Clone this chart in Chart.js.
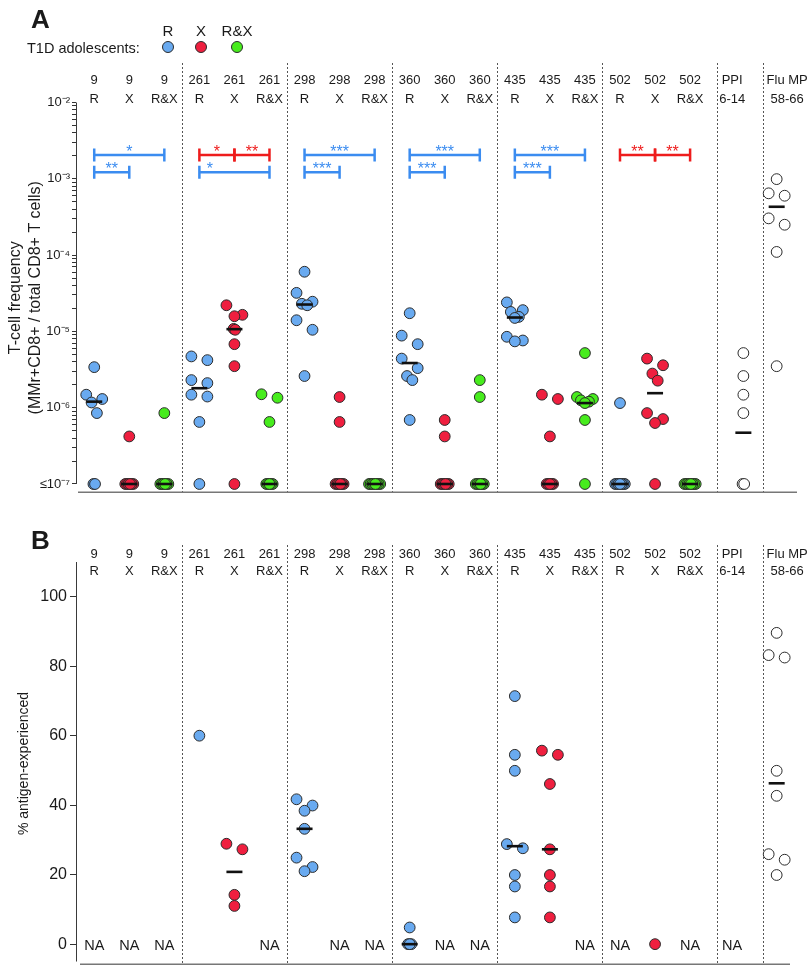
<!DOCTYPE html>
<html>
<head>
  <title>MMr+ CD8 T-cell frequency and antigen experience</title>
  <script src="https://cdn.jsdelivr.net/npm/chart.js@4/dist/chart.umd.min.js"></script>
  <style>
    body { margin: 0; background: #fff; overflow: hidden; }
    #wrap { position: relative; width: 810px; height: 968px; font-family: "Liberation Sans", Arial, sans-serif; color: #1a1a1a; }
    #wrap canvas { position: absolute; left: 0; }
    .abs { position: absolute; white-space: nowrap; }
    .letter { font-weight: bold; font-size: 26px; line-height: 26px; }
    .lg { font-size: 14.5px; line-height: 14.5px; }
  </style>
</head>
<body>
<div id="wrap">
  <canvas id="chartA" width="810" height="500" style="top:0"></canvas>
  <canvas id="chartB" width="810" height="463" style="top:505px"></canvas>
  <div class="abs letter" style="left:31px;top:6px">A</div>
  <div class="abs letter" style="left:31px;top:527px">B</div>
  <div class="abs lg" style="left:27px;top:41px">T1D adolescents:</div>
  <div id="legend"></div>
</div>

<script>
  var FONT = '"Liberation Sans", Arial, sans-serif';
  Chart.defaults.font.family = FONT;
  Chart.defaults.color = '#1a1a1a';

  // ---- data ----
  var epitopes = ['9', '261', '298', '360', '435', '502'];
  var types = ['R', 'X', 'R&X'];
  var controls = ['PPI', 'Flu MP'];
  var controlRanges = ['6-14', '58-66'];
  var ND = 1e-7; // at or below detection

  // A: MMr+CD8+ / total CD8+ T cells, one array per epitope
  var freqR = [
    [3.4e-6, 1.48e-6, 1.3e-6, 1.17e-6, 8.5e-7, ND, ND],
    [4.7e-6, 4.2e-6, 2.3e-6, 2.1e-6, 1.48e-6, 1.4e-6, 6.5e-7, ND],
    [6.05e-5, 3.2e-5, 2.45e-5, 2.3e-5, 2.2e-5, 1.4e-5, 1.05e-5, 2.6e-6],
    [1.73e-5, 8.8e-6, 6.8e-6, 4.4e-6, 3.3e-6, 2.6e-6, 2.3e-6, 6.9e-7],
    [2.4e-5, 1.9e-5, 1.8e-5, 1.55e-5, 1.5e-5, 8.5e-6, 7.6e-6, 7.4e-6],
    [1.15e-6, ND, ND, ND, ND, ND, ND, ND]
  ];
  var freqX = [
    [4.2e-7, ND, ND, ND, ND, ND, ND],
    [2.2e-5, 1.65e-5, 1.58e-5, 1.08e-5, 1.05e-5, 6.8e-6, 3.5e-6, ND],
    [1.38e-6, 6.5e-7, ND, ND, ND, ND, ND, ND],
    [6.9e-7, 4.2e-7, ND, ND, ND, ND, ND, ND],
    [1.48e-6, 1.3e-6, 4.2e-7, ND, ND, ND, ND, ND],
    [4.4e-6, 3.6e-6, 2.8e-6, 2.26e-6, 8.5e-7, 7.1e-7, 6.3e-7, ND]
  ];
  var freqRX = [
    [8.5e-7, ND, ND, ND, ND, ND, ND],
    [1.5e-6, 1.35e-6, 6.5e-7, ND, ND, ND, ND, ND],
    [ND, ND, ND, ND, ND, ND, ND, ND],
    [2.3e-6, 1.38e-6, ND, ND, ND, ND, ND, ND],
    [5.2e-6, 1.38e-6, 1.3e-6, 1.25e-6, 1.2e-6, 1.15e-6, 6.9e-7, ND],
    [ND, ND, ND, ND, ND, ND, ND, ND]
  ];
  var freqPPI = [5.2e-6, 2.6e-6, 1.48e-6, 8.5e-7, ND, ND];
  var freqFlu = [9.9e-4, 6.45e-4, 6e-4, 3.03e-4, 2.5e-4, 1.1e-4, 3.5e-6];
  var medFreqR = [1.2e-6, 1.8e-6, 2.25e-5, 3.85e-6, 1.52e-5, ND];
  var medFreqX = [ND, 1.07e-5, ND, ND, ND, 1.55e-6];
  var medFreqRX = [ND, ND, ND, ND, 1.15e-6, ND];
  var medFreqPPI = 4.7e-7;
  var medFreqFlu = 4.3e-4;

  // significance brackets (column index = 3 * epitope + type)
  var sigFrom = [0, 0, 3, 4, 3, 6, 6, 9, 9, 12, 12, 15, 16];
  var sigTo = [2, 1, 4, 5, 5, 8, 7, 11, 10, 14, 13, 16, 17];
  var sigRow = [1, 2, 1, 1, 2, 1, 2, 1, 2, 1, 2, 1, 1];
  var sigStars = ['*', '**', '*', '**', '*', '***', '***', '***', '***', '***', '***', '**', '**'];
  var sigSeries = ['R', 'R', 'X', 'X', 'R', 'R', 'R', 'R', 'R', 'R', 'R', 'X', 'X'];
  var sigStarAt = [0.5, 0.5, 0.5, 0.5, 0.15, 0.5, 0.5, 0.5, 0.5, 0.5, 0.5, 0.5, 0.5];

  // B: % antigen-experienced (null = NA)
  var expR = [null, [60], [41.7, 39.9, 38.4, 33.2, 24.9, 22.2, 21.0], [4.8, 0, 0, 0],
              [71.4, 54.5, 49.9, 28.8, 27.6, 19.9, 16.6, 7.7], null];
  var expX = [null, [28.9, 27.3, 14.2, 11.0], null, null, [55.7, 54.5, 46.1, 27.3, 19.9, 16.6, 7.7], [0]];
  var expRX = [null, null, null, null, null, null];
  var expPPI = null;
  var expFlu = [89.6, 83.2, 82.5, 49.9, 42.7, 25.9, 24.3, 19.9];
  var medExpR = [null, null, 33.2, 0, 28.2, null];
  var medExpX = [null, 20.8, null, null, 27.3, null];
  var medExpRX = [null, null, null, null, null, null];
  var medExpFlu = 46.3;

  // ---- layout / style ----
  var fillColor = { 'R': '#69aaf0', 'X': '#ef1f3f', 'R&X': '#47ec1d' };
  var bracketColor = { 'R': '#3b8cf0', 'X': '#ee1c1c' };
  var X_MIN = -0.52, X_MAX = 20.05;
  var PPI_X = 18.52, FLU_X = 19.47, PPI_LABEL_X = 18.2, FLU_LABEL_X = 19.77;
  var SEPARATORS = [2.5, 5.5, 8.5, 11.5, 14.5, 17.76, 19.08];
  var BRACKET_Y = { 1: 2.05e-3, 2: 1.22e-3 };
  var DOT = 11, MAX_SPREAD = 8;

  // legend
  var legend = document.getElementById('legend');
  [168, 201, 237].forEach(function(cx, k) {
    var t = document.createElement('div');
    t.className = 'abs lg';
    t.style.cssText = 'left:' + cx + 'px;top:24px;transform:translateX(-50%);font-size:15px';
    t.textContent = types[k];
    legend.appendChild(t);
    var c = document.createElement('div');
    c.className = 'abs';
    c.style.cssText = 'left:' + (cx - 6) + 'px;top:41px;width:12px;height:12px;border-radius:50%;box-sizing:border-box;border:1px solid #2b2b2b;background:' + fillColor[types[k]];
    legend.appendChild(c);
  });

  // header labels
  var headTop = [], headBottom = [], headPos = [];
  epitopes.forEach(function(ep, e) {
    types.forEach(function(t, k) { headTop.push(ep); headBottom.push(t); headPos.push(3 * e + k); });
  });
  headTop = headTop.concat(controls);
  headBottom = headBottom.concat(controlRanges);
  headPos.push(PPI_LABEL_X, FLU_LABEL_X);

  function seriesPoints(series, k) {
    var out = [];
    series.forEach(function(vals, e) {
      if (vals) vals.forEach(function(v) { out.push({ x: 3 * e + k, y: v, col: 3 * e + k }); });
    });
    return out;
  }
  function columnPoints(vals, pos) {
    return vals ? vals.map(function(v) { return { x: pos, y: v, col: pos }; }) : [];
  }
  function medianPoints(meds, k) {
    var out = [];
    meds.forEach(function(m, e) { if (m !== null) out.push({ x: 3 * e + k, y: m }); });
    return out;
  }

  function dotSet(label, data, bg) {
    return { label: label, data: data, backgroundColor: bg, borderColor: '#2b2b2b', borderWidth: 1,
             pointRadius: 5.4, pointHoverRadius: 5.4, order: 1, clip: false };
  }
  function medianSet(data) {
    return { label: 'median', data: data, pointStyle: 'line', pointRadius: 8, borderColor: '#111',
             borderWidth: 2.6, order: 0, clip: false };
  }

  // spread overlapping dots sideways (pixel offsets)
  function swarm(ys) {
    var idx = ys.map(function(_, i) { return i; }).sort(function(a, b) { return ys[a] - ys[b]; });
    var off = ys.map(function() { return 0; });
    var i = 0;
    while (i < idx.length) {
      var j = i;
      while (j + 1 < idx.length && ys[idx[j + 1]] - ys[idx[j]] < DOT) j++;
      var k = j - i + 1;
      if (k > 1) {
        var span = ys[idx[j]] - ys[idx[i]];
        var step = span < 1 ? 1.6 : Math.min(16, 2 * MAX_SPREAD / (k - 1));
        var order = [], lo = 0, hi = k - 1;
        while (lo <= hi) { order.push(lo++); if (lo <= hi) order.push(hi--); }
        for (var s = 0; s < k; s++) off[idx[i + s]] = (order[s] - (k - 1) / 2) * step;
      }
      i = j + 1;
    }
    return off;
  }

  function applyJitter(chart) {
    var xs = chart.scales.x, ys = chart.scales.y;
    var unit = xs.getPixelForValue(1) - xs.getPixelForValue(0);
    chart.data.datasets.forEach(function(ds) {
      if (ds.label === 'median') return;
      var groups = {};
      ds.data.forEach(function(p) { (groups[p.col] = groups[p.col] || []).push(p); });
      Object.keys(groups).forEach(function(key) {
        var pts = groups[key];
        var off = swarm(pts.map(function(p) { return ys.getPixelForValue(p.y); }));
        pts.forEach(function(p, i) { p.x = p.col + off[i] / unit; });
      });
    });
    chart.update('none');
  }

  // fixed-width y axis that does not push the plot area in from the canvas edges
  function fixAxis(s) {
    s.width = 76;
    s.paddingTop = 0;
    s.paddingBottom = 0;
  }

  function makeDecor(cfg) {
    return {
      id: 'decor',
      beforeDatasetsDraw: function(chart) {
        var ctx = chart.ctx, a = chart.chartArea, x = chart.scales.x, y = chart.scales.y;
        ctx.save();
        ctx.strokeStyle = '#555';
        ctx.lineWidth = 1;
        ctx.setLineDash([2, 2]);
        SEPARATORS.forEach(function(s) {
          var px = Math.round(x.getPixelForValue(s)) + 0.5;
          ctx.beginPath(); ctx.moveTo(px, cfg.sepTop); ctx.lineTo(px, a.bottom); ctx.stroke();
        });
        ctx.setLineDash([]);
        ctx.strokeStyle = '#3a3a3a';
        ctx.beginPath();
        ctx.moveTo(a.left + 0.5, y.getPixelForValue(cfg.axisTop));
        ctx.lineTo(a.left + 0.5, y.getPixelForValue(cfg.axisBottom));
        ctx.stroke();
        ctx.strokeStyle = '#777';
        ctx.lineWidth = 1.5;
        ctx.beginPath();
        ctx.moveTo(a.left + cfg.baseFrom, a.bottom - 0.75);
        ctx.lineTo(a.right - cfg.baseTrim, a.bottom - 0.75);
        ctx.stroke();
        ctx.restore();
      },
      afterDatasetsDraw: function(chart) {
        var ctx = chart.ctx, x = chart.scales.x, y = chart.scales.y;
        ctx.save();
        ctx.fillStyle = '#1a1a1a';
        ctx.textAlign = 'center';
        ctx.textBaseline = 'alphabetic';
        ctx.font = '13px ' + FONT;
        headPos.forEach(function(p, i) {
          var px = x.getPixelForValue(p);
          ctx.fillText(headTop[i], px, cfg.headY1);
          ctx.fillText(headBottom[i], px, cfg.headY2);
        });
        if (cfg.extra) cfg.extra(ctx, x, y);
        ctx.restore();
      }
    };
  }

  var SUP = { '-': '\u207B', '0': '\u2070', '1': '\u00B9', '2': '\u00B2', '3': '\u00B3', '4': '\u2074',
              '5': '\u2075', '6': '\u2076', '7': '\u2077', '8': '\u2078', '9': '\u2079' };
  function logLabel(v) {
    var e = Math.log10(v);
    if (Math.abs(e - Math.round(e)) > 1e-6) return '';
    var s = '10' + String(Math.round(e)).split('').map(function(c) { return SUP[c]; }).join('');
    return v < 1.5e-7 ? '\u2264' + s : s;
  }
  function logTicks() {
    var t = [];
    for (var e = -7; e <= -3; e++) for (var m = 1; m <= 9; m++) t.push({ value: m * Math.pow(10, e) });
    t.push({ value: 1e-2 });
    return t;
  }

  // ---- panel A ----
  var chartA = new Chart(document.getElementById('chartA'), {
    type: 'scatter',
    data: {
      datasets: [
        dotSet('R', seriesPoints(freqR, 0), fillColor['R']),
        dotSet('X', seriesPoints(freqX, 1), fillColor['X']),
        dotSet('R&X', seriesPoints(freqRX, 2), fillColor['R&X']),
        dotSet('PPI', columnPoints(freqPPI, PPI_X), '#fff'),
        dotSet('Flu', columnPoints(freqFlu, FLU_X), '#fff'),
        medianSet(medianPoints(medFreqR, 0).concat(medianPoints(medFreqX, 1), medianPoints(medFreqRX, 2),
          [{ x: PPI_X, y: medFreqPPI }, { x: FLU_X, y: medFreqFlu }]))
      ]
    },
    options: {
      responsive: false,
      animation: false,
      events: [],
      layout: { autoPadding: false, padding: { top: 102.5, right: 13, bottom: 7, left: 0 } },
      plugins: { legend: { display: false }, tooltip: { enabled: false } },
      scales: {
        x: { type: 'linear', min: X_MIN, max: X_MAX, display: false },
        y: {
          type: 'logarithmic',
          min: Math.pow(10, -7.118),
          max: 1e-2,
          afterFit: fixAxis,
          afterBuildTicks: function(s) { s.ticks = logTicks(); },
          border: { display: false },
          grid: { drawOnChartArea: false, drawTicks: true, tickLength: 4, color: '#333' },
          ticks: { autoSkip: false, padding: 2, font: { size: 13 }, color: '#1a1a1a', callback: logLabel },
          title: {
            display: true,
            text: ['T-cell frequency', '(MMr+CD8+ / total CD8+ T cells)'],
            font: { size: 16, lineHeight: 1.25 },
            padding: { top: 6, bottom: 0 },
            color: '#1a1a1a'
          }
        }
      }
    },
    plugins: [makeDecor({
      sepTop: 63, axisTop: 1e-2, axisBottom: ND, baseFrom: 2, baseTrim: 0, headY1: 84.3, headY2: 102.7,
      extra: function(ctx, x, y) {
        ctx.lineWidth = 2.5;
        ctx.font = '16px ' + FONT;
        sigFrom.forEach(function(f, i) {
          var c = bracketColor[sigSeries[i]];
          var x1 = x.getPixelForValue(f), x2 = x.getPixelForValue(sigTo[i]);
          var yy = y.getPixelForValue(BRACKET_Y[sigRow[i]]);
          ctx.strokeStyle = c;
          ctx.beginPath();
          ctx.moveTo(x1, yy); ctx.lineTo(x2, yy);
          ctx.moveTo(x1, yy - 6.5); ctx.lineTo(x1, yy + 6.5);
          ctx.moveTo(x2, yy - 6.5); ctx.lineTo(x2, yy + 6.5);
          ctx.stroke();
          ctx.fillStyle = c;
          ctx.fillText(sigStars[i], x1 + (x2 - x1) * sigStarAt[i], yy + 1.5);
        });
      }
    })]
  });
  applyJitter(chartA);

  // ---- panel B ----
  var chartB = new Chart(document.getElementById('chartB'), {
    type: 'scatter',
    data: {
      datasets: [
        dotSet('R', seriesPoints(expR, 0), fillColor['R']),
        dotSet('X', seriesPoints(expX, 1), fillColor['X']),
        dotSet('R&X', seriesPoints(expRX, 2), fillColor['R&X']),
        dotSet('PPI', columnPoints(expPPI, PPI_X), '#fff'),
        dotSet('Flu', columnPoints(expFlu, FLU_X), '#fff'),
        medianSet(medianPoints(medExpR, 0).concat(medianPoints(medExpX, 1), medianPoints(medExpRX, 2),
          [{ x: FLU_X, y: medExpFlu }]))
      ]
    },
    options: {
      responsive: false,
      animation: false,
      events: [],
      layout: { autoPadding: false, padding: { top: 57, right: 13, bottom: 3, left: 0 } },
      plugins: { legend: { display: false }, tooltip: { enabled: false } },
      scales: {
        x: { type: 'linear', min: X_MIN, max: X_MAX, display: false },
        y: {
          type: 'linear',
          min: -6,
          max: 110,
          afterFit: fixAxis,
          afterBuildTicks: function(s) { s.ticks = [0, 20, 40, 60, 80, 100].map(function(v) { return { value: v }; }); },
          border: { display: false },
          grid: { drawOnChartArea: false, drawTicks: true, tickLength: 6, color: '#333' },
          ticks: { autoSkip: false, padding: 3, font: { size: 16 }, color: '#1a1a1a' },
          title: {
            display: true,
            text: '% antigen-experienced',
            font: { size: 14, lineHeight: 1.2 },
            padding: { top: 16, bottom: 0 },
            color: '#1a1a1a'
          }
        }
      }
    },
    plugins: [makeDecor({
      sepTop: 40, axisTop: 110, axisBottom: -5, baseFrom: 4, baseTrim: 7, headY1: 53, headY2: 70,
      extra: function(ctx, x, y) {
        ctx.font = '14.5px ' + FONT;
        ctx.textBaseline = 'middle';
        var ny = y.getPixelForValue(0) + 1.5;
        [expR, expX, expRX].forEach(function(series, k) {
          series.forEach(function(vals, e) {
            if (!vals) ctx.fillText('NA', x.getPixelForValue(3 * e + k), ny);
          });
        });
        if (!expPPI) ctx.fillText('NA', x.getPixelForValue(PPI_LABEL_X), ny);
      }
    })]
  });
  applyJitter(chartB);
</script>
</body>
</html>
